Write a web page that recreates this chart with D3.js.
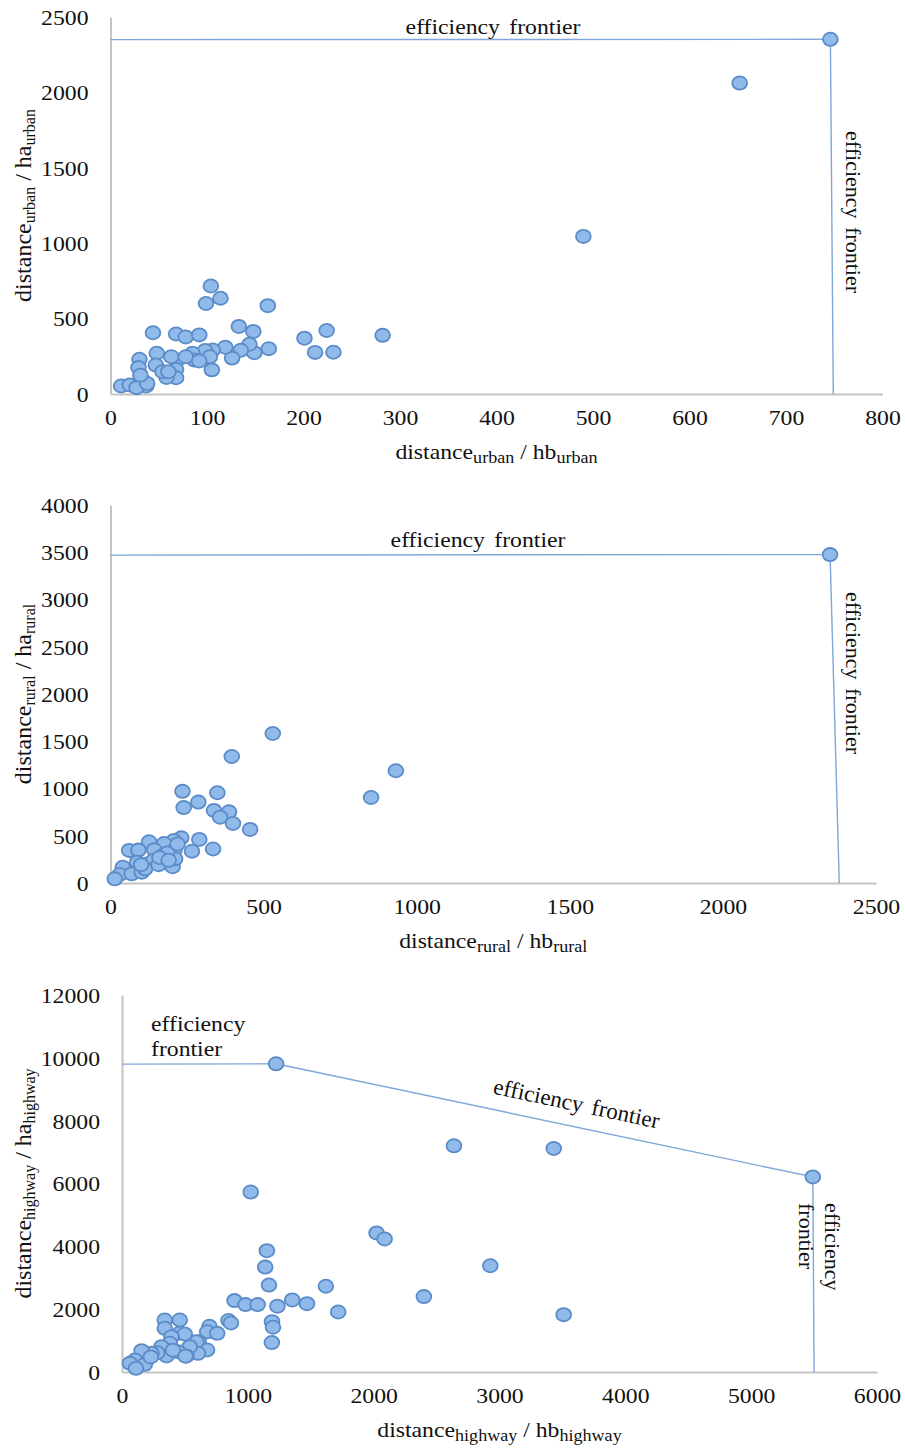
<!DOCTYPE html>
<html>
<head>
<meta charset="utf-8">
<script src="https://cdn.jsdelivr.net/npm/d3@7"></script>
<style>
  body { margin: 0; background: #fff; }
  text { font-family: "Liberation Serif", "Times New Roman", serif; fill: #111; }
</style>
</head>
<body>
<svg id="chart"></svg>
<script>
// --- data ---
// urban panel
var urbanX = [746, 652, 490, 104, 99, 114, 163, 44, 68, 78, 92, 133, 148, 201, 224, 282,
  212, 231, 164, 149, 144, 135, 126, 119, 106, 98, 85, 87, 105, 103, 69, 68, 68, 58, 48, 47,
  54, 60, 30, 29, 33, 11, 20, 37, 27, 63, 78, 92, 38, 31]
var urbanY = [2352, 2062, 1045, 716, 600, 635, 586, 406, 398, 378, 392, 448, 415, 370, 421, 389,
  276, 277, 300, 274, 330, 290, 238, 310, 292, 288, 270, 225, 160, 247, 225, 163, 108, 110, 270, 192,
  148, 148, 230, 175, 93, 53, 60, 53, 42, 247, 247, 219, 70, 125]
var urbanFrontier = [[0, 2350], [746, 2352], [749, 0]]
var urbanXTicks = [0, 100, 200, 300, 400, 500, 600, 700, 800]
var urbanYTicks = [0, 500, 1000, 1500, 2000, 2500]

// rural panel
var ruralX = [2350, 530, 396, 932, 851, 235, 349, 287, 239, 338, 387, 358, 400, 456, 290, 335,
  266, 231, 207, 175, 126, 61, 91, 143, 171, 209, 203, 87, 123, 140, 211, 40, 30, 14, 69, 102,
  113, 157, 185, 100, 219, 160, 190]
var ruralY = [3475, 1582, 1339, 1188, 905, 970, 955, 856, 798, 768, 753, 697, 630, 567, 461, 360,
  336, 478, 450, 418, 436, 345, 348, 351, 291, 348, 172, 220, 203, 238, 256, 167, 90, 44, 97, 114,
  150, 194, 317, 194, 413, 270, 240]
var ruralFrontier = [[0, 3470], [2350, 3475], [2380, 0]]
var ruralXTicks = [0, 500, 1000, 1500, 2000, 2500]
var ruralYTicks = [0, 500, 1000, 1500, 2000, 2500, 3000, 3500, 4000]

// highway panel
var highwayX = [1225, 5490, 2638, 3431, 1023, 2023, 2087, 1151, 1138, 2927, 1168, 1620, 2399, 894,
  982, 1078, 1235, 1353, 1470, 1718, 3510, 1192, 1200, 1191, 846, 866, 695, 677, 757, 610, 676, 591,
  604, 538, 512, 446, 459, 499, 459, 340, 340, 393, 380, 354, 314, 280, 235, 156, 103, 182, 63, 111,
  405, 505, 229]
var highwayY = [9810, 6210, 7200, 7115, 5728, 4427, 4235, 3861, 3339, 3381, 2767, 2730, 2400, 2272,
  2145, 2145, 2095, 2293, 2176, 1910, 1825, 1602, 1425, 937, 1640, 1560, 1455, 1280, 1230, 960, 700, 965,
  595, 807, 510, 647, 1240, 1210, 1656, 1656, 1391, 1125, 913, 510, 807, 616, 595, 679, 382, 244, 276, 118,
  693, 501, 480]
var highwayFrontier = [[0, 9800], [1225, 9810], [5490, 6210], [5500, 0]]
var highwayXTicks = [0, 1000, 2000, 3000, 4000, 5000, 6000]
var highwayYTicks = [0, 2000, 4000, 6000, 8000, 10000, 12000]

var width = 905
var height = 1451
var svg = d3.select("#chart").attr("width", width).attr("height", height)

var stretch = 1.13  // the source picture is a bit wider than tall

function panel(opt) {
  var x = d3.scaleLinear().domain(opt.xDomain).range([opt.left, opt.right])
  var y = d3.scaleLinear().domain(opt.yDomain).range([opt.bottom, opt.top])
  var g = svg.append("g")

  // axes
  var xAxis = g.append("g")
    .attr("transform", "translate(0," + opt.bottom + ")")
    .call(d3.axisBottom(x).tickValues(opt.xTicks).tickSize(0).tickSizeOuter(0).tickFormat(d3.format("d")))
  var yAxis = g.append("g")
    .attr("transform", "translate(" + opt.left + ",0)")
    .call(d3.axisLeft(y).tickValues(opt.yTicks).tickSize(0).tickSizeOuter(0).tickFormat(d3.format("d")))
  ;[xAxis, yAxis].forEach(function(a) {
    a.select(".domain").attr("stroke", "#c4c4c4").attr("stroke-width", 2)
    a.selectAll("text")
      .style("font-family", '"Liberation Serif", serif')
      .style("font-size", "21px")
      .attr("fill", "#111")
  })
  xAxis.selectAll("text").attr("transform", "scale(" + stretch + ",1)").attr("y", 16)
  yAxis.selectAll("text")
    .attr("x", -22 / stretch)
    .attr("dy", "0.35em")
    .attr("transform", "scale(" + stretch + ",1)")

  // frontier line
  var line = d3.line().x(d => x(d[0])).y(d => y(d[1]))
  g.append("path")
    .datum(opt.frontier)
    .attr("d", line)
    .attr("fill", "none")
    .attr("stroke", "#7fa7d9")
    .attr("stroke-width", 1.4)

  // points
  g.append("g")
    .selectAll("ellipse")
    .data(opt.xs.map((v, i) => [v, opt.ys[i]]))
    .enter()
    .append("ellipse")
    .attr("cx", d => x(d[0]))
    .attr("cy", d => y(d[1]))
    .attr("rx", 7.4)
    .attr("ry", 6.6)
    .attr("fill", "#8fbae9")
    .attr("stroke", "#5b8bc8")
    .attr("stroke-width", 1.8)

  // x title
  var xt = g.append("text")
    .attr("transform", "translate(" + ((opt.left + opt.right) / 2) + "," + (opt.bottom + 65) + ") scale(" + stretch + ",1)")
    .attr("text-anchor", "middle")
    .style("font-size", "21px")
  subTitle(xt, opt.sub, "hb", 16)

  // y title
  var yt = g.append("text")
    .attr("transform", "translate(31," + ((opt.top + opt.bottom) / 2) + ") rotate(-90)")
    .attr("text-anchor", "middle")
    .style("font-size", "24px")
  subTitle(yt, opt.sub, "ha", 16)

  return {x: x, y: y, g: g}
}

function subTitle(t, sub, h, subSize) {
  t.append("tspan").text("distance")
  t.append("tspan").text(sub).attr("baseline-shift", "-4px").style("font-size", subSize + "px")
  t.append("tspan").text(" / " + h)
  t.append("tspan").text(sub).attr("baseline-shift", "-4px").style("font-size", subSize + "px")
}

function label(g, tx, ty, rot, lines, anchor, size) {
  var t = g.append("text")
    .attr("transform", "translate(" + tx + "," + ty + ") rotate(" + rot + ")" + (rot == 0 ? " scale(" + stretch + ",1)" : ""))
    .attr("text-anchor", anchor)
    .style("font-size", size + "px")
    .style("word-spacing", "3px")
  lines.forEach(function(s, i) {
    t.append("tspan").attr("x", 0).attr("dy", i == 0 ? 0 : "1.2em").text(s)
  })
}

var p1 = panel({
  xDomain: [0, 800], yDomain: [0, 2500], left: 110.5, right: 882.5, top: 17, bottom: 394,
  xTicks: urbanXTicks, yTicks: urbanYTicks, xs: urbanX, ys: urbanY, frontier: urbanFrontier, sub: "urban"
})
label(p1.g, 493, 34, 0, ["efficiency frontier"], "middle", 21)
label(p1.g, 846, 131, 90, ["efficiency frontier"], "start", 22)

var p2 = panel({
  xDomain: [0, 2500], yDomain: [0, 4000], left: 110.5, right: 876, top: 505, bottom: 883,
  xTicks: ruralXTicks, yTicks: ruralYTicks, xs: ruralX, ys: ruralY, frontier: ruralFrontier, sub: "rural"
})
label(p2.g, 478, 547, 0, ["efficiency frontier"], "middle", 21)
label(p2.g, 846, 592, 90, ["efficiency frontier"], "start", 22)

var p3 = panel({
  xDomain: [0, 6000], yDomain: [0, 12000], left: 122, right: 877, top: 995, bottom: 1372,
  xTicks: highwayXTicks, yTicks: highwayYTicks, xs: highwayX, ys: highwayY, frontier: highwayFrontier, sub: "highway"
})
label(p3.g, 151, 1031, 0, ["efficiency", "frontier"], "start", 21)
label(p3.g, 575, 1111, 12, ["efficiency frontier"], "middle", 23)
label(p3.g, 825, 1203, 90, ["efficiency", "frontier"], "start", 22)
</script>
</body>
</html>
